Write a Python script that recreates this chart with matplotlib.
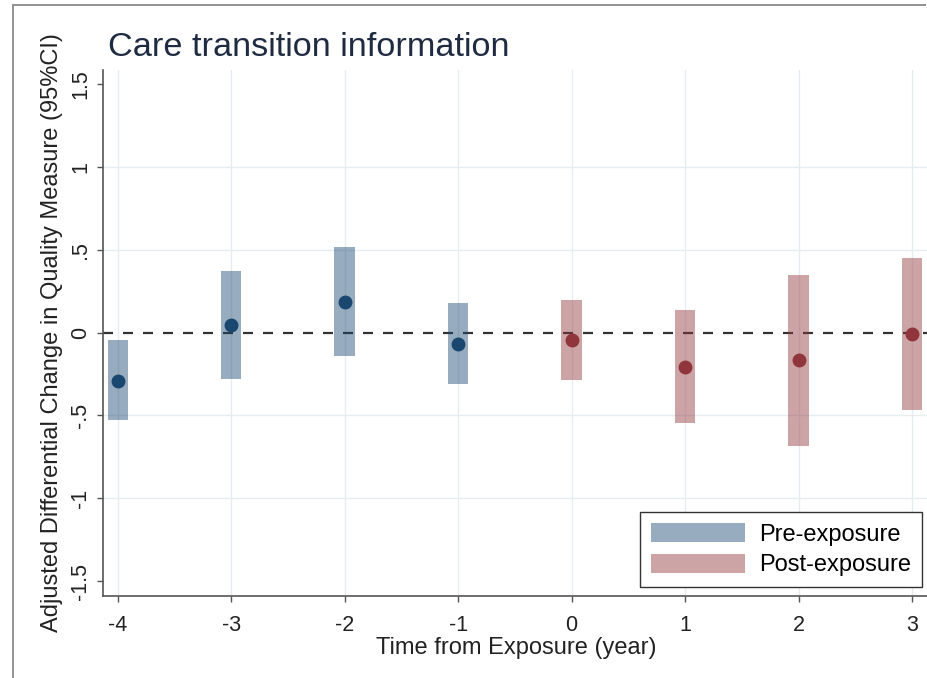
import matplotlib
matplotlib.use("Agg")
import matplotlib.pyplot as plt
from matplotlib.patches import Patch
from matplotlib.lines import Line2D

plt.rcParams['font.family'] = ['Liberation Sans', 'DejaVu Sans']

# event-time estimates with 95% CI
pre_years = [-4, -3, -2, -1]
pre_est = [-0.29, 0.045, 0.186, -0.07]
pre_lo = [-0.53, -0.28, -0.14, -0.31]
pre_hi = [-0.045, 0.37, 0.514, 0.176]

post_years = [0, 1, 2, 3]
post_est = [-0.045, -0.206, -0.166, -0.007]
post_lo = [-0.287, -0.546, -0.683, -0.468]
post_hi = [0.196, 0.136, 0.349, 0.451]

x_ticks = [-4, -3, -2, -1, 0, 1, 2, 3]
y_ticks = [-1.5, -1, -0.5, 0, 0.5, 1, 1.5]
y_ticklabels = ['-1.5', '-1', '-.5', '0', '.5', '1', '1.5']

navy = '#1a476f'
maroon = '#90353b'
W, H = 928, 678

fig = plt.figure(figsize=(W / 100, H / 100), dpi=100)
# plot region runs off the right edge of the canvas
ax = fig.add_axes([103 / W, 82 / H, 1 - 103 / W, 526 / H])

# outer graph frame (left and top edges)
fig.add_artist(Line2D([13 / W, 13 / W], [0, 1 - 5 / H], transform=fig.transFigure,
                      color='#8a8a8a', lw=1.3))
fig.add_artist(Line2D([13 / W, 926 / W], [1 - 5 / H, 1 - 5 / H], transform=fig.transFigure,
                      color='#8a8a8a', lw=1.3, solid_capstyle='butt'))

# light grid
for xv in x_ticks:
    ax.axvline(xv, color='#e6edf0', lw=1.0, zorder=0)
for yv in [-1, -0.5, 0.5, 1]:
    ax.axhline(yv, color='#e6edf0', lw=1.0, zorder=0)

ax.axhline(0, color='#333333', lw=1.6, dashes=(4.5, 4.5), zorder=1)

bw = 0.18
ax.bar(pre_years, [h - l for h, l in zip(pre_hi, pre_lo)], bottom=pre_lo, width=bw,
       color=navy, alpha=0.45, lw=0, zorder=2)
ax.bar(post_years, [h - l for h, l in zip(post_hi, post_lo)], bottom=post_lo, width=bw,
       color=maroon, alpha=0.45, lw=0, zorder=2)
ax.plot(pre_years, pre_est, 'o', color=navy, ms=9, zorder=3)
ax.plot(post_years, post_est, 'o', color=maroon, ms=9, zorder=3)

ax.set_xlim(-4.13, -4.13 + 825 / 113.46)
ax.set_ylim(-1.59, 1.584)
ax.set_xticks(x_ticks)
ax.set_xticklabels([str(v) for v in x_ticks])
ax.set_yticks(y_ticks)
ax.set_yticklabels(y_ticklabels, rotation=90, va='center')

ax.spines['top'].set_visible(False)
ax.spines['right'].set_visible(False)
for side in ['left', 'bottom']:
    ax.spines[side].set_color('#555555')
    ax.spines[side].set_linewidth(1.2)
ax.tick_params(axis='both', colors='#555555', length=4.5, width=1.0, labelsize=15.5,
               labelcolor='#222222')
ax.tick_params(axis='x', pad=9)
ax.tick_params(axis='y', pad=4)

fig.text(108 / W, 1 - 47 / H, 'Care transition information', fontsize=24.7,
         color='#1e2b40', va='center', ha='left')
fig.text(516 / W, 1 - 648 / H, 'Time from Exposure (year)', fontsize=17,
         color='#222222', va='center', ha='center')
fig.text(52 / W, 1 - 333 / H, 'Adjusted Differential Change in Quality Measure (95%CI)',
         fontsize=17, color='#222222', va='center', ha='center', rotation=90)

handles = [Patch(facecolor=navy, alpha=0.45, lw=0, label='Pre-exposure'),
           Patch(facecolor=maroon, alpha=0.45, lw=0, label='Post-exposure')]
leg = fig.legend(handles=handles, loc='lower right', bbox_to_anchor=(922 / W, 1 - 587 / H),
                 bbox_transform=fig.transFigure, fontsize=17, frameon=True, fancybox=False,
                 edgecolor='#333333', framealpha=1, handlelength=4.0, handleheight=0.85,
                 borderpad=0.45, labelspacing=0.35, handletextpad=0.6, borderaxespad=0)
leg.get_frame().set_linewidth(1.0)

fig.savefig('out.png', dpi=100)
